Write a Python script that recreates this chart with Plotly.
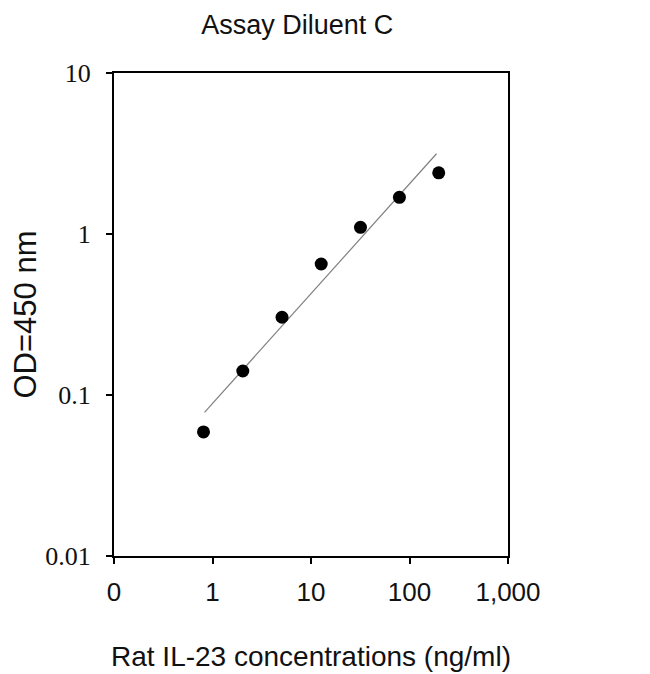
import plotly.graph_objects as go

# Rat IL-23 standard curve, Assay Diluent C
conc = [0.81, 2.03, 5.08, 12.7, 31.8, 79, 198]
od = [0.059, 0.141, 0.304, 0.651, 1.10, 1.69, 2.40]

# fitted line end points
fit_x = [0.83, 188]
fit_y = [0.078, 3.15]

x_ticks = [0.1, 1, 10, 100, 1000]
x_labels = ["0", "1", "10", "100", "1,000"]
y_ticks = [0.01, 0.1, 1, 10]
y_labels = ["0.01", "0.1", "1", "10"]

fig = go.Figure()
fig.add_trace(go.Scatter(x=fit_x, y=fit_y, mode="lines",
                         line=dict(color="#808080", width=1.2), showlegend=False))
fig.add_trace(go.Scatter(x=conc, y=od, mode="markers",
                         marker=dict(color="black", size=13), showlegend=False))

fig.update_layout(
    width=650, height=674,
    margin=dict(l=106, r=150, t=65, b=126),
    plot_bgcolor="white", paper_bgcolor="white",
    title=dict(text="Assay Diluent C", x=0.445, xanchor="center", y=0.976, yanchor="middle",
               font=dict(family="Liberation Sans", size=27, color="#111")),
)
fig.update_xaxes(
    type="log", range=[-1, 3], tickvals=x_ticks, ticktext=x_labels,
    ticks="outside", ticklen=6, tickwidth=2, tickcolor="black", ticklabelstandoff=6,
    showline=True, linecolor="black", linewidth=2, mirror=True, showgrid=False, zeroline=False,
    tickfont=dict(family="Liberation Sans", size=26, color="#111"),
    title=dict(text="Rat IL-23 concentrations (ng/ml)", standoff=40,
               font=dict(family="Liberation Sans", size=28, color="#111")),
)
fig.update_yaxes(
    type="log", range=[-2, 1], tickvals=y_ticks, ticktext=y_labels,
    ticks="outside", ticklen=6, tickwidth=2, tickcolor="black", ticklabelstandoff=10,
    showline=True, linecolor="black", linewidth=2, mirror=True, showgrid=False, zeroline=False,
    tickfont=dict(family="Liberation Serif", size=26, color="#111"),
    title=dict(text="OD=450 nm", standoff=2,
               font=dict(family="Liberation Sans", size=31, color="#111")),
)

fig.write_html("out.html")
